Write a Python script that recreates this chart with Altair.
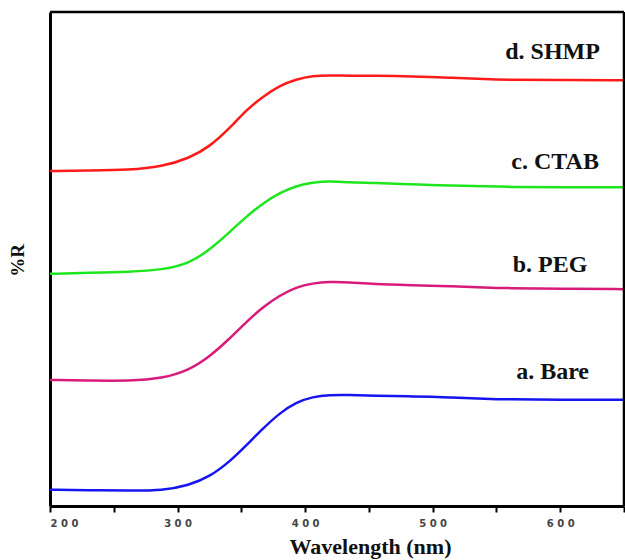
import altair as alt
import pandas as pd

wavelength = [200, 230, 262, 288, 309, 325, 341, 354, 367, 380, 393, 406, 419, 434, 454, 484, 513, 543, 557, 600, 650]

bare = [3.3, 3.2, 3.1, 3.1, 4.2, 5.9, 9.0, 12.3, 15.7, 18.8, 21.0, 22.1, 22.5, 22.5, 22.3, 22.2, 22.0, 21.7, 21.6, 21.5, 21.5]
peg = [25.5, 25.4, 25.3, 25.8, 27.5, 30.2, 33.9, 37.3, 40.3, 42.6, 44.3, 45.1, 45.4, 45.3, 44.9, 44.7, 44.5, 44.2, 44.1, 44.0, 43.9]
ctab = [47.0, 47.2, 47.4, 47.8, 49.1, 51.8, 55.5, 58.6, 61.3, 63.4, 64.8, 65.5, 65.8, 65.5, 65.4, 65.1, 64.9, 64.7, 64.6, 64.5, 64.5]
shmp = [67.8, 67.9, 68.0, 68.7, 70.4, 72.7, 76.5, 80.2, 82.9, 85.1, 86.4, 87.1, 87.2, 87.1, 87.1, 87.0, 86.7, 86.4, 86.3, 86.2, 86.2]

series_names = ["a. Bare", "b. PEG", "c. CTAB", "d. SHMP"]
series_colors = ["#1515f0", "#d81b7a", "#1ee61e", "#ff1a1a"]
label_x = [594, 592, 596, 594]
label_y = [27.1, 48.8, 69.6, 91.9]

x_min, x_max = 200, 650
y_min, y_max = 0, 100

rows = []
for name, vals in zip(series_names, [bare, peg, ctab, shmp]):
    for w, v in zip(wavelength, vals):
        rows.append({"wavelength": w, "R": v, "series": name})
df = pd.DataFrame(rows)

lab = pd.DataFrame({"series": series_names, "x": label_x, "y": label_y})

# frame edges (top and right) expressed in data units
frame = pd.DataFrame({
    "fx": [x_min, x_max], "fx2": [x_max, x_max],
    "fy": [y_max, y_min], "fy2": [y_max, y_max],
})

xscale = alt.Scale(domain=[x_min, x_max], nice=False, zero=False)
yscale = alt.Scale(domain=[y_min, y_max], nice=False, zero=False)
cscale = alt.Scale(domain=series_names, range=series_colors)

lines = alt.Chart(df).mark_line(strokeWidth=2.5, interpolate="basis").encode(
    x=alt.X("wavelength:Q", scale=xscale,
            axis=alt.Axis(
                title="Wavelength (nm)",
                values=list(range(200, 651, 50)),
                labelExpr="datum.value % 100 == 0 ? join(split(toString(datum.value), ''), ' ') : ''",
                labelFont="DejaVu Sans", labelFontWeight="bold", labelFontSize=10,
                labelColor="#444444", labelPadding=6,
                tickSize=6, tickColor="black", tickWidth=2,
                domainColor="black", domainWidth=3,
                grid=False,
                titleFont="Liberation Serif", titleFontWeight="bold", titleFontSize=22,
                titleColor="#111111",
                titleX=320, titleY=47, titleAlign="center", titleBaseline="alphabetic",
            )),
    y=alt.Y("R:Q", scale=yscale,
            axis=alt.Axis(
                title="%R", labels=False, ticks=False, grid=False,
                domainColor="black", domainWidth=3,
                titleFont="Liberation Serif", titleFontWeight="bold", titleFontSize=19,
                titleColor="#111111", titleAngle=270,
                titleX=-33, titleY=248, titleAlign="center", titleBaseline="middle",
            )),
    color=alt.Color("series:N", scale=cscale, legend=None),
    detail="series:N",
)

labels = alt.Chart(lab).mark_text(
    font="Liberation Serif", fontWeight="bold", fontSize=24, color="#111111",
    align="center", baseline="middle",
).encode(
    x=alt.X("x:Q", scale=xscale),
    y=alt.Y("y:Q", scale=yscale),
    text="series:N",
)

frame_rules = alt.Chart(frame).mark_rule(color="black", strokeWidth=2.5).encode(
    x=alt.X("fx:Q", scale=xscale),
    x2="fx2:Q",
    y=alt.Y("fy:Q", scale=yscale),
    y2="fy2:Q",
)

chart = alt.layer(lines, labels, frame_rules).properties(
    width=574, height=494,
    padding={"left": 50, "top": 12, "right": 1, "bottom": 54},
    autosize="none",
    background="white",
).configure_view(stroke=None)

chart.save("out.html", embed_options={"renderer": "svg", "actions": False})
